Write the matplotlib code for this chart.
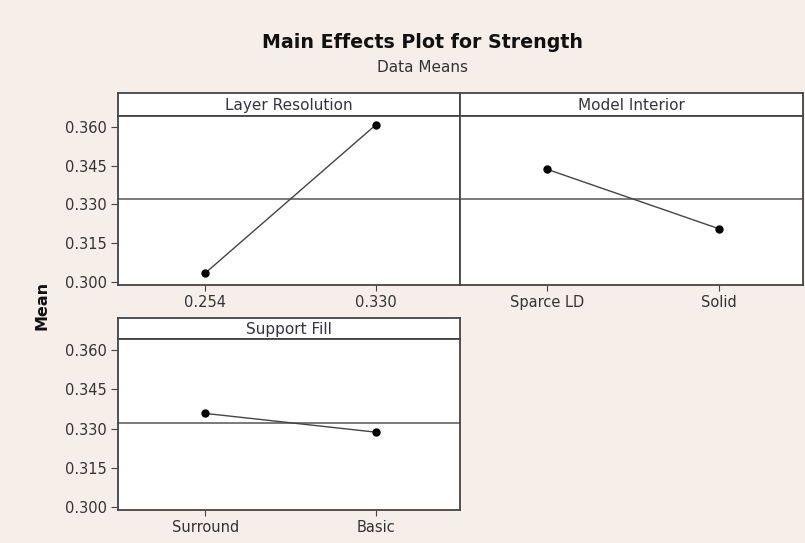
import numpy as np
import matplotlib.pyplot as plt

# data
factors = ['Layer Resolution', 'Model Interior', 'Support Fill']
levels = [['0.254', '0.330'], ['Sparce LD', 'Solid'], ['Surround', 'Basic']]
means = [[0.3034, 0.3610], [0.3436, 0.3206], [0.3358, 0.3286]]
grand_mean = 0.3322
yticks = [0.300, 0.315, 0.330, 0.345, 0.360]

W, H = 805, 543
BG = '#f6eee8'
EDGE = '#444444'

fig = plt.figure(figsize=(W / 100, H / 100), dpi=100, facecolor=BG)


def px_ax(x0, y0, x1, y1):
    # pixel box (top-left origin) -> figure axes
    return fig.add_axes([x0 / W, 1 - y1 / H, (x1 - x0) / W, (y1 - y0) / H])


# (left, top, right, strip bottom, plot bottom)
boxes = [(118, 93, 460, 116, 285),
         (460, 93, 803, 116, 285),
         (118, 318, 460, 339, 510)]

for i, (x0, y0, x1, ys, yb) in enumerate(boxes):
    strip = px_ax(x0, y0, x1, ys)
    strip.set_xticks([])
    strip.set_yticks([])
    strip.set_facecolor('white')
    for s in strip.spines.values():
        s.set_color(EDGE)
        s.set_linewidth(1.3)
    strip.text(0.5, 0.45, factors[i], ha='center', va='center',
               fontsize=11, color='#333344')

    ax = px_ax(x0, ys, x1, yb)
    ax.set_facecolor('white')
    for s in ax.spines.values():
        s.set_color(EDGE)
        s.set_linewidth(1.3)
    x = np.arange(len(levels[i]))
    ax.axhline(grand_mean, color='#555555', lw=1.1)
    ax.plot(x, means[i], color='#444444', lw=1.0, marker='o',
            markersize=5, markerfacecolor='black', markeredgecolor='black')
    ax.set_xlim(-0.51, 1.49)
    ax.set_ylim(0.2988, 0.3643)
    ax.set_xticks(x)
    ax.set_xticklabels(levels[i], fontsize=10.5, color='#333333')
    ax.tick_params(axis='x', length=4, color=EDGE, pad=3)
    if x0 == 118:
        ax.set_yticks(yticks)
        ax.set_yticklabels([f'{v:.3f}' for v in yticks], fontsize=10.5,
                           color='#333333')
        ax.tick_params(axis='y', length=5, color=EDGE, pad=3)
    else:
        ax.set_yticks([])

fig.text(422 / W, 1 - 42 / H, 'Main Effects Plot for Strength', ha='center',
         va='center', fontsize=13.7, fontweight='bold', color='#111111')
fig.text(422 / W, 1 - 67 / H, 'Data Means', ha='center', va='center',
         fontsize=11, color='#333333')
fig.text(42 / W, 1 - 305 / H, 'Mean', ha='center', va='center', rotation=90,
         fontsize=11.5, fontweight='bold', color='#111111')

fig.savefig('out.png', dpi=100, facecolor=BG)
